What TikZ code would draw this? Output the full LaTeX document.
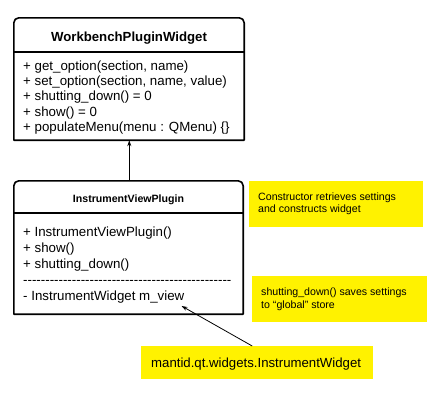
\documentclass[tikz,border=0pt]{standalone}
\usepackage{fontspec}
\setmainfont{Liberation Sans}
\usetikzlibrary{positioning,arrows.meta}

\begin{document}
\begin{tikzpicture}[x=1pt, y=-1pt,
	classbox/.style={inner sep=0pt, minimum width=230pt},
	outline/.style={line width=1.6pt, line join=round},
	member/.style={anchor=base west, inner sep=0pt, font=\fontsize{13.3}{15}\selectfont},
	title/.style={anchor=base, inner sep=0pt, font=\bfseries\fontsize{#1}{#1}\selectfont},
	note/.style={fill=yellow, anchor=north west, inner sep=0pt},
	notetext/.style={anchor=base west, inner sep=0pt, font=\fontsize{#1}{#1}\selectfont},
	pointer/.style={-{Stealth[length=6pt, width=4pt]}, line width=0.8pt}]
	
	\useasboundingbox (0,0) rectangle (444,402);
	
	% Base class
	\node[classbox, minimum height=122pt] (widget) at (129,79) {};
	\draw[outline] (widget.south west) [rounded corners=5pt] -- (widget.north west) -- (widget.north east) [sharp corners] -- (widget.south east) -- cycle;
	\draw[outline] (widget.west |- 0,52) -- (widget.east |- 0,52);
	\node[title=13.2] (widgetname) at (129,41.7) {WorkbenchPluginWidget};
	\node[member] (getopt) at (23,70) {+ get\_option(section, name)};
	\node[member] (setopt) at (23,85.4) {+ set\_option(section, name, value)};
	\node[member] (shutdown) at (23,100.8) {+ shutting\_down() = 0};
	\node[member] (show) at (23,116.2) {+ show() = 0};
	\node[member] (menu) at (23,131.6) {+ populateMenu(menu : QMenu) \{\}};
	
	% Plugin class
	\node[classbox, minimum width=229pt, minimum height=133pt] (plugin) at (128.5,247.5) {};
	\draw[outline] (plugin.south west) [rounded corners=5pt] -- (plugin.north west) -- (plugin.north east) [sharp corners] -- (plugin.south east) -- cycle;
	\draw[outline] (plugin.west |- 0,213) -- (plugin.east |- 0,213);
	\node[title=10.6] (pluginname) at (128.5,202) {InstrumentViewPlugin};
	\node[member] (ctor) at (23,236.7) {+ InstrumentViewPlugin()};
	\node[member] (pshow) at (23,252.5) {+ show()};
	\node[member] (pshutdown) at (23,268.3) {+ shutting\_down()};
	\node[member] (sep) at (23,284) {\foreach \i in {1,...,47}{\hbox{-}}};
	\node[member] (mview) at (23,300) {- InstrumentWidget m\_view};
	
	% Notes
	\node[note, minimum width=174pt, minimum height=46pt] (ctornote) at (249,181) {};
	\node[notetext=10.6] at (258,200) {Constructor retrieves settings};
	\node[notetext=10.6] at (258,212.7) {and constructs widget};
	\node[note, minimum width=175pt, minimum height=46pt] (savenote) at (252,276) {};
	\node[notetext=10.6] at (261,295.3) {shutting\_down() saves settings};
	\node[notetext=10.6] at (261,308) {to “global” store};
	\node[note, minimum width=232pt, minimum height=33pt] (instwidget) at (141,346) {};
	\node[notetext=13.2] at (151,367.3) {mantid.qt.widgets.InstrumentWidget};
	
	% Arrows
	\draw[pointer] ([xshift=0.8pt]plugin.north) -- ([xshift=0.8pt]plugin.north |- widget.south);
	\draw[pointer] ([xshift=-5pt]instwidget.north) -- ([xshift=-3pt, yshift=-3pt]mview.south east);
	
\end{tikzpicture}
\end{document}
